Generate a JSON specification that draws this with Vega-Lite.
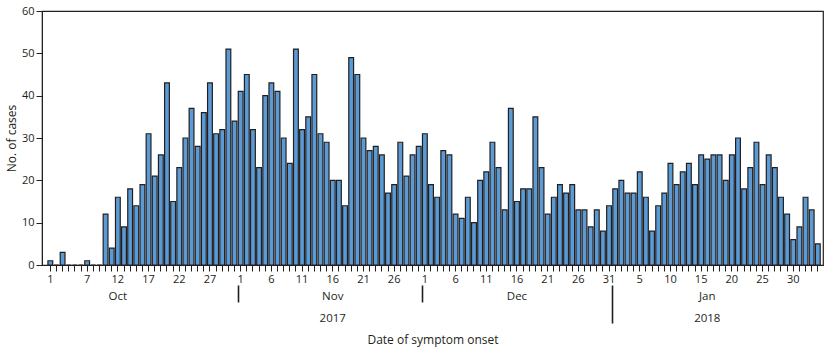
{
  "$schema": "https://vega.github.io/schema/vega-lite/v6.json",
  "width": 781,
  "height": 254,
  "autosize": "none",
  "padding": {"left": 42, "top": 11, "right": 12, "bottom": 90},
  "background": "white",
  "config": {
    "view": {"stroke": "#231f20", "strokeWidth": 1.2},
    "font": "Open Sans",
    "axis": {
      "labelColor": "#231f20",
      "titleColor": "#231f20",
      "domainColor": "#231f20",
      "tickColor": "#231f20",
      "labelFont": "Open Sans",
      "titleFont": "Open Sans",
      "labelFontSize": 11,
      "titleFontSize": 12,
      "titleFontWeight": "normal",
      "grid": false
    }
  },
  "data": {
    "values": [
      {"date": "2017-10-01", "cases": 1}, {"date": "2017-10-02", "cases": 0}, {"date": "2017-10-03", "cases": 3},
      {"date": "2017-10-04", "cases": 0}, {"date": "2017-10-05", "cases": 0}, {"date": "2017-10-06", "cases": 0},
      {"date": "2017-10-07", "cases": 1}, {"date": "2017-10-08", "cases": 0}, {"date": "2017-10-09", "cases": 0},
      {"date": "2017-10-10", "cases": 12}, {"date": "2017-10-11", "cases": 4}, {"date": "2017-10-12", "cases": 16},
      {"date": "2017-10-13", "cases": 9}, {"date": "2017-10-14", "cases": 18}, {"date": "2017-10-15", "cases": 14},
      {"date": "2017-10-16", "cases": 19}, {"date": "2017-10-17", "cases": 31}, {"date": "2017-10-18", "cases": 21},
      {"date": "2017-10-19", "cases": 26}, {"date": "2017-10-20", "cases": 43}, {"date": "2017-10-21", "cases": 15},
      {"date": "2017-10-22", "cases": 23}, {"date": "2017-10-23", "cases": 30}, {"date": "2017-10-24", "cases": 37},
      {"date": "2017-10-25", "cases": 28}, {"date": "2017-10-26", "cases": 36}, {"date": "2017-10-27", "cases": 43},
      {"date": "2017-10-28", "cases": 31}, {"date": "2017-10-29", "cases": 32}, {"date": "2017-10-30", "cases": 51},
      {"date": "2017-10-31", "cases": 34},
      {"date": "2017-11-01", "cases": 41}, {"date": "2017-11-02", "cases": 45}, {"date": "2017-11-03", "cases": 32},
      {"date": "2017-11-04", "cases": 23}, {"date": "2017-11-05", "cases": 40}, {"date": "2017-11-06", "cases": 43},
      {"date": "2017-11-07", "cases": 41}, {"date": "2017-11-08", "cases": 30}, {"date": "2017-11-09", "cases": 24},
      {"date": "2017-11-10", "cases": 51}, {"date": "2017-11-11", "cases": 32}, {"date": "2017-11-12", "cases": 35},
      {"date": "2017-11-13", "cases": 45}, {"date": "2017-11-14", "cases": 31}, {"date": "2017-11-15", "cases": 29},
      {"date": "2017-11-16", "cases": 20}, {"date": "2017-11-17", "cases": 20}, {"date": "2017-11-18", "cases": 14},
      {"date": "2017-11-19", "cases": 49}, {"date": "2017-11-20", "cases": 45}, {"date": "2017-11-21", "cases": 30},
      {"date": "2017-11-22", "cases": 27}, {"date": "2017-11-23", "cases": 28}, {"date": "2017-11-24", "cases": 26},
      {"date": "2017-11-25", "cases": 17}, {"date": "2017-11-26", "cases": 19}, {"date": "2017-11-27", "cases": 29},
      {"date": "2017-11-28", "cases": 21}, {"date": "2017-11-29", "cases": 26}, {"date": "2017-11-30", "cases": 28},
      {"date": "2017-12-01", "cases": 31}, {"date": "2017-12-02", "cases": 19}, {"date": "2017-12-03", "cases": 16},
      {"date": "2017-12-04", "cases": 27}, {"date": "2017-12-05", "cases": 26}, {"date": "2017-12-06", "cases": 12},
      {"date": "2017-12-07", "cases": 11}, {"date": "2017-12-08", "cases": 16}, {"date": "2017-12-09", "cases": 10},
      {"date": "2017-12-10", "cases": 20}, {"date": "2017-12-11", "cases": 22}, {"date": "2017-12-12", "cases": 29},
      {"date": "2017-12-13", "cases": 23}, {"date": "2017-12-14", "cases": 13}, {"date": "2017-12-15", "cases": 37},
      {"date": "2017-12-16", "cases": 15}, {"date": "2017-12-17", "cases": 18}, {"date": "2017-12-18", "cases": 18},
      {"date": "2017-12-19", "cases": 35}, {"date": "2017-12-20", "cases": 23}, {"date": "2017-12-21", "cases": 12},
      {"date": "2017-12-22", "cases": 16}, {"date": "2017-12-23", "cases": 19}, {"date": "2017-12-24", "cases": 17},
      {"date": "2017-12-25", "cases": 19}, {"date": "2017-12-26", "cases": 13}, {"date": "2017-12-27", "cases": 13},
      {"date": "2017-12-28", "cases": 9}, {"date": "2017-12-29", "cases": 13}, {"date": "2017-12-30", "cases": 8},
      {"date": "2017-12-31", "cases": 14},
      {"date": "2018-01-01", "cases": 18}, {"date": "2018-01-02", "cases": 20}, {"date": "2018-01-03", "cases": 17},
      {"date": "2018-01-04", "cases": 17}, {"date": "2018-01-05", "cases": 22}, {"date": "2018-01-06", "cases": 16},
      {"date": "2018-01-07", "cases": 8}, {"date": "2018-01-08", "cases": 14}, {"date": "2018-01-09", "cases": 17},
      {"date": "2018-01-10", "cases": 24}, {"date": "2018-01-11", "cases": 19}, {"date": "2018-01-12", "cases": 22},
      {"date": "2018-01-13", "cases": 24}, {"date": "2018-01-14", "cases": 19}, {"date": "2018-01-15", "cases": 26},
      {"date": "2018-01-16", "cases": 25}, {"date": "2018-01-17", "cases": 26}, {"date": "2018-01-18", "cases": 26},
      {"date": "2018-01-19", "cases": 20}, {"date": "2018-01-20", "cases": 26}, {"date": "2018-01-21", "cases": 30},
      {"date": "2018-01-22", "cases": 18}, {"date": "2018-01-23", "cases": 23}, {"date": "2018-01-24", "cases": 29},
      {"date": "2018-01-25", "cases": 19}, {"date": "2018-01-26", "cases": 26}, {"date": "2018-01-27", "cases": 23},
      {"date": "2018-01-28", "cases": 16}, {"date": "2018-01-29", "cases": 12}, {"date": "2018-01-30", "cases": 6},
      {"date": "2018-01-31", "cases": 9},
      {"date": "2018-02-01", "cases": 16}, {"date": "2018-02-02", "cases": 13}, {"date": "2018-02-03", "cases": 5}
    ]
  },
  "resolve": {"axis": {"x": "independent"}},
  "layer": [
    {
      "mark": {"type": "bar", "fill": "#5b9bd5", "stroke": "#231f20", "strokeWidth": 1.2},
      "encoding": {
        "x": {
          "field": "date",
          "type": "ordinal",
          "scale": {"paddingInner": 0.22, "paddingOuter": 0.71, "align": 0.68},
          "axis": {
            "orient": "bottom",
            "title": "Date of symptom onset",
            "titlePadding": 50,
            "labelAngle": 0,
            "labelOverlap": false,
            "tickSize": 6,
            "labelPadding": 2,
            "labelExpr": "indexof(['2017-10-01','2017-10-07','2017-10-12','2017-10-17','2017-10-22','2017-10-27','2017-11-01','2017-11-06','2017-11-11','2017-11-16','2017-11-21','2017-11-26','2017-12-01','2017-12-06','2017-12-11','2017-12-16','2017-12-21','2017-12-26','2017-12-31','2018-01-05','2018-01-10','2018-01-15','2018-01-20','2018-01-25','2018-01-30'], datum.value) >= 0 ? '' + toNumber(substring(datum.value, 8, 10)) : ''"
          }
        },
        "y": {
          "field": "cases",
          "type": "quantitative",
          "scale": {"domain": [0, 60], "nice": false},
          "axis": {
            "title": "No. of cases",
            "values": [0, 10, 20, 30, 40, 50, 60],
            "tickSize": 6,
            "labelPadding": 2,
            "titlePadding": 3
          }
        }
      }
    },
    {
      "mark": {"type": "tick", "opacity": 0},
      "encoding": {
        "x": {
          "field": "date",
          "type": "ordinal",
          "axis": {
            "orient": "bottom",
            "title": null,
            "offset": 20,
            "domain": false,
            "ticks": false,
            "labelAngle": 0,
            "labelPadding": 5,
            "labelFontSize": 11.5,
            "values": ["2017-10-12", "2017-11-16", "2017-12-16", "2018-01-16"],
            "labelExpr": "datum.value == '2017-10-12' ? 'Oct' : datum.value == '2017-11-16' ? 'Nov' : datum.value == '2017-12-16' ? 'Dec' : 'Jan'"
          }
        }
      }
    },
    {
      "mark": {"type": "tick", "opacity": 0},
      "encoding": {
        "x": {
          "field": "date",
          "type": "ordinal",
          "axis": {
            "orient": "bottom",
            "title": null,
            "offset": 20,
            "domain": false,
            "labels": false,
            "tickSize": 17,
            "tickWidth": 1.6,
            "bandPosition": 0,
            "values": ["2017-11-01", "2017-12-01"]
          }
        }
      }
    },
    {
      "mark": {"type": "tick", "opacity": 0},
      "encoding": {
        "x": {
          "field": "date",
          "type": "ordinal",
          "axis": {
            "orient": "bottom",
            "title": null,
            "offset": 20,
            "domain": false,
            "labels": false,
            "tickSize": 38,
            "tickWidth": 1.6,
            "bandPosition": 0,
            "values": ["2018-01-01"]
          }
        }
      }
    },
    {
      "mark": {"type": "tick", "opacity": 0},
      "encoding": {
        "x": {
          "field": "date",
          "type": "ordinal",
          "axis": {
            "orient": "bottom",
            "title": null,
            "offset": 20,
            "domain": false,
            "ticks": false,
            "labelAngle": 0,
            "labelPadding": 27,
            "labelFontSize": 11.5,
            "values": ["2017-11-16", "2018-01-16"],
            "labelExpr": "datum.value == '2017-11-16' ? '2017' : '2018'"
          }
        }
      }
    }
  ]
}
